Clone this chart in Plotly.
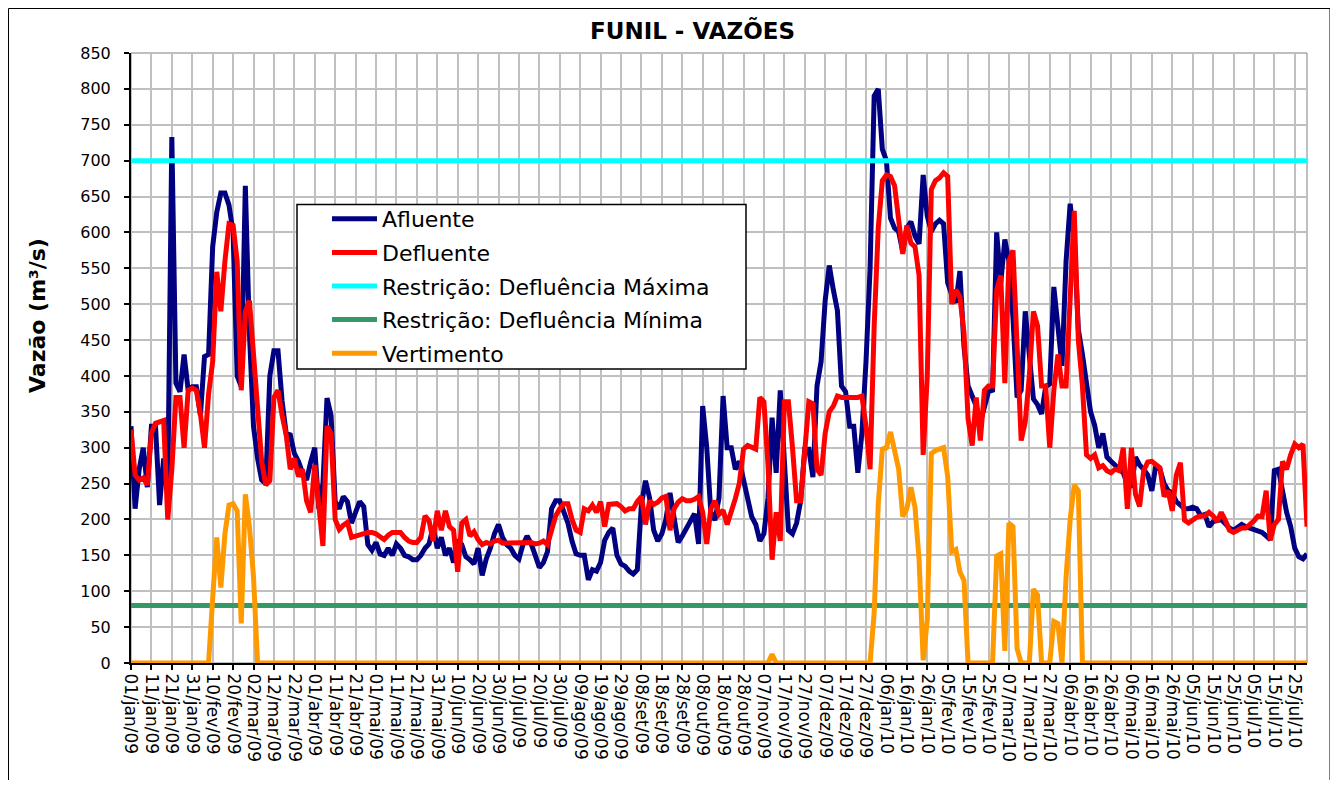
import pandas as pd
import plotly.graph_objects as go

# ---------------- data ----------------
MONTHS_PT = ["jan", "fev", "mar", "abr", "mai", "jun", "jul", "ago", "set", "out", "nov", "dez"]

# observation dates (every 2 days, 01/jan/2009 .. 31/jul/2010)
dates = pd.date_range("2009-01-01", "2010-07-31", freq="2D")

afluente = [
    330, 215, 270, 300, 245, 330, 330, 220, 285, 240,
    733, 390, 378, 430, 380, 385, 385, 345, 427, 430,
    580, 628, 655, 655, 638, 600, 400, 385, 665, 460,
    330, 285, 255, 250, 400, 435, 435, 365, 320, 318,
    292, 281, 265, 255, 280, 300, 215, 250, 369, 345,
    225, 215, 232, 225, 195, 210, 225, 218, 165, 157,
    168, 152, 150, 160, 150, 166, 160, 150, 148, 144,
    144, 150, 160, 166, 190, 160, 175, 150, 160, 140,
    171, 165, 148, 144, 138, 160, 122, 145, 160, 180,
    193, 175, 165, 160, 150, 145, 165, 177, 166, 150,
    133, 140, 155, 215, 226, 226, 210, 195, 170, 152,
    150, 150, 116, 130, 128, 140, 171, 182, 188, 150,
    138, 135, 128, 124, 130, 221, 254, 230, 185, 170,
    180, 200, 237, 200, 168, 177, 188, 200, 208, 166,
    358, 300, 210, 199, 230, 372, 300, 300, 270, 281,
    255, 235, 204, 193, 170, 180, 230, 342, 265, 380,
    275, 185, 180, 195, 226, 298, 298, 259, 386, 420,
    505, 554, 520, 491, 386, 378, 330, 330, 265, 320,
    420, 550, 790, 800, 716, 700, 620, 606, 601, 573,
    606, 615, 595, 584, 680, 623, 601, 612, 617, 612,
    530, 513, 502, 546, 441, 386, 372, 358, 335, 360,
    378, 380, 600, 530, 590, 560, 480, 370, 380, 490,
    420, 368, 360, 347, 385, 389, 524, 470, 414, 560,
    640, 590, 465, 430, 386, 350, 331, 300, 320, 287,
    281, 276, 270, 265, 250, 245, 287, 276, 270, 262,
    240, 276, 270, 250, 240, 237, 225, 220, 215, 215,
    217, 215, 205, 207, 190, 197, 199, 200, 194, 188,
    185, 190, 193, 190, 188, 186, 185, 182, 177, 172,
    268, 270, 240, 210, 190, 160, 148, 145, 152,
]

defluente = [
    325, 262, 255, 258, 248, 320, 334, 336, 338, 200,
    270, 370, 370, 300, 380, 383, 380, 347, 300, 375,
    420, 545, 490, 560, 612, 610, 560, 380, 490, 505,
    430, 345, 281, 248, 254, 370, 380, 345, 318, 270,
    285, 260, 270, 226, 210, 276, 210, 163, 330, 320,
    200, 186, 192, 196, 175, 177, 178, 180, 182, 182,
    180, 176, 172, 178, 182, 182, 182, 175, 170, 168,
    168, 175, 205, 198, 170, 212, 185, 212, 190, 185,
    127, 195, 200, 177, 183, 172, 165, 168, 166, 170,
    171, 167, 167, 168, 168, 168, 168, 168, 168, 166,
    167, 170, 165, 185, 205, 215, 222, 222, 200, 185,
    182, 215, 212, 220, 210, 225, 190, 221, 222, 222,
    218, 212, 215, 215, 225, 232, 193, 226, 221, 224,
    230, 232, 185, 215, 224, 229, 226, 226, 228, 232,
    210, 166, 215, 226, 207, 213, 193, 210, 229, 251,
    298, 303, 300, 298, 370, 364, 276, 144, 210, 170,
    364, 364, 300, 226, 226, 287, 364, 361, 270, 262,
    320, 350, 358, 372, 370, 370, 370, 370, 370, 372,
    330, 270, 470, 606, 672, 680, 678, 665, 610, 570,
    610, 585, 580, 540, 290, 400, 660, 672, 676, 683,
    678, 500, 520, 510, 460, 340, 303, 370, 310, 380,
    386, 386, 520, 540, 390, 560, 575, 420, 310, 336,
    400, 490, 470, 386, 386, 300, 380, 430, 386, 386,
    530, 630, 450, 386, 290, 285, 290, 272, 275, 268,
    265, 270, 268, 300, 215, 300, 235, 218, 268, 280,
    281, 276, 272, 232, 240, 212, 262, 279, 199, 195,
    200, 203, 205, 205, 210, 205, 197, 210, 199, 185,
    182, 186, 188, 188, 192, 198, 205, 204, 240, 171,
    193, 200, 281, 270, 290, 305, 300, 305, 190,
]

vertimento = [
    0, 0, 0, 0, 0, 0, 0, 0, 0, 0,
    0, 0, 0, 0, 0, 0, 0, 0, 0, 0,
    90, 175, 105, 180, 220, 222, 212, 55, 235, 190,
    120, 0, 0, 0, 0, 0, 0, 0, 0, 0,
    0, 0, 0, 0, 0, 0, 0, 0, 0, 0,
    0, 0, 0, 0, 0, 0, 0, 0, 0, 0,
    0, 0, 0, 0, 0, 0, 0, 0, 0, 0,
    0, 0, 0, 0, 0, 0, 0, 0, 0, 0,
    0, 0, 0, 0, 0, 0, 0, 0, 0, 0,
    0, 0, 0, 0, 0, 0, 0, 0, 0, 0,
    0, 0, 0, 0, 0, 0, 0, 0, 0, 0,
    0, 0, 0, 0, 0, 0, 0, 0, 0, 0,
    0, 0, 0, 0, 0, 0, 0, 0, 0, 0,
    0, 0, 0, 0, 0, 0, 0, 0, 0, 0,
    0, 0, 0, 0, 0, 0, 0, 0, 0, 0,
    0, 0, 0, 0, 0, 0, 0, 12, 0, 0,
    0, 0, 0, 0, 0, 0, 0, 0, 0, 0,
    0, 0, 0, 0, 0, 0, 0, 0, 0, 0,
    0, 0, 70, 221, 298, 300, 322, 295, 270, 204,
    215, 245, 217, 144, 4, 60, 292, 296, 298, 300,
    260, 155, 158, 127, 115, 0, 0, 0, 0, 0,
    0, 0, 149, 152, 17, 195, 190, 20, 0, 0,
    0, 103, 95, 0, 0, 0, 58, 55, 0, 120,
    200, 248, 240, 0, 0, 0, 0, 0, 0, 0,
    0, 0, 0, 0, 0, 0, 0, 0, 0, 0,
    0, 0, 0, 0, 0, 0, 0, 0, 0, 0,
    0, 0, 0, 0, 0, 0, 0, 0, 0, 0,
    0, 0, 0, 0, 0, 0, 0, 0, 0, 0,
    0, 0, 0, 0, 0, 0, 0, 0, 0,
]

restricao_maxima = 700
restricao_minima = 80

tick_dates = pd.date_range("2009-01-01", "2010-07-25", freq="10D")
tick_labels = [f"{d.day:02d}/{MONTHS_PT[d.month - 1]}/{d:%y}" for d in tick_dates]

# ---------------- figure ----------------
W, H = 1330, 772
L, T, PW, PH = 123, 45, 1176, 610
R, B = W - L - PW, H - T - PH
FONT = "DejaVu Sans"
LW = 5


def px_x(x):
    return (x - L) / PW


def px_y(y):
    return (T + PH - y) / PH


series = [
    ("Afluente", afluente, "#000080"),
    ("Defluente", defluente, "#FF0000"),
    ("Restrição: Defluência Máxima", [restricao_maxima] * len(dates), "#00FFFF"),
    ("Restrição: Defluência Mínima", [restricao_minima] * len(dates), "#339966"),
    ("Vertimento", vertimento, "#FF9900"),
]

fig = go.Figure()
for i, (name, vals, col) in enumerate(series):
    fig.add_trace(go.Scatter(
        x=dates, y=vals, mode="lines", name=name, legendgroup=f"g{i}",
        line=dict(color=col, width=LW),
    ))

frame = dict(color="black", width=1)
fig.update_layout(
    width=W, height=H, autosize=False,
    margin=dict(l=L, r=R, t=T, b=B, pad=0),
    paper_bgcolor="white", plot_bgcolor="white",
    font=dict(family=FONT, color="black"),
    showlegend=True,
    legend=dict(
        x=px_x(319), y=px_y(190), xanchor="left", yanchor="top",
        bgcolor="rgba(0,0,0,0)", borderwidth=0,
        font=dict(family=FONT, size=22, color="black"),
        tracegroupgap=2, itemwidth=45,
    ),
    xaxis=dict(
        type="date", range=["2009-01-01", "2010-07-31"],
        tickmode="array", tickvals=tick_dates, ticktext=tick_labels,
        tickangle=90, tickfont=dict(family=FONT, size=17, color="black"),
        showgrid=True, gridcolor="#C0C0C0", gridwidth=1.5,
        ticks="outside", ticklen=5, tickwidth=1.5, tickcolor="black",
        showline=True, linecolor="black", linewidth=2, zeroline=False,
    ),
    yaxis=dict(
        range=[0, 850], tick0=0, dtick=50,
        tickfont=dict(family=FONT, size=16, color="black"),
        showgrid=True, gridcolor="#C0C0C0", gridwidth=1.5,
        ticks="outside", ticklen=5, tickwidth=1.5, tickcolor="black",
        showline=True, linecolor="black", linewidth=2, zeroline=False,
        ticklabelstandoff=10,
    ),
    shapes=[
        # plot-area border
        dict(type="rect", xref="paper", yref="paper", x0=0, x1=1, y0=0, y1=1,
             line=dict(color="#808080", width=1), layer="below"),
        # legend box
        dict(type="rect", xref="paper", yref="paper",
             x0=px_x(289), x1=px_x(738), y0=px_y(361), y1=px_y(196.5),
             fillcolor="white", line=dict(color="black", width=1.5), layer="above"),
        # chart frame (left, top, right edges)
        dict(type="line", xref="paper", yref="paper",
             x0=px_x(0.5), x1=px_x(0.5), y0=px_y(772), y1=px_y(0.5), line=frame),
        dict(type="line", xref="paper", yref="paper",
             x0=px_x(0.5), x1=px_x(1322), y0=px_y(0.5), y1=px_y(0.5), line=frame),
        dict(type="line", xref="paper", yref="paper",
             x0=px_x(1322), x1=px_x(1322), y0=px_y(772), y1=px_y(0.5), line=frame),
    ],
    annotations=[
        dict(text="<b>FUNIL - VAZÕES</b>", xref="paper", yref="paper",
             x=px_x(684.5), y=px_y(22), xanchor="center", yanchor="middle",
             showarrow=False, font=dict(family=FONT, size=23, color="black")),
        dict(text="<b>Vazão (m³/s)</b>", xref="paper", yref="paper",
             x=px_x(29.5), y=px_y(307.5), xanchor="center", yanchor="middle",
             textangle=-90, showarrow=False,
             font=dict(family=FONT, size=22, color="black")),
    ],
)

fig.write_html("out.html")
